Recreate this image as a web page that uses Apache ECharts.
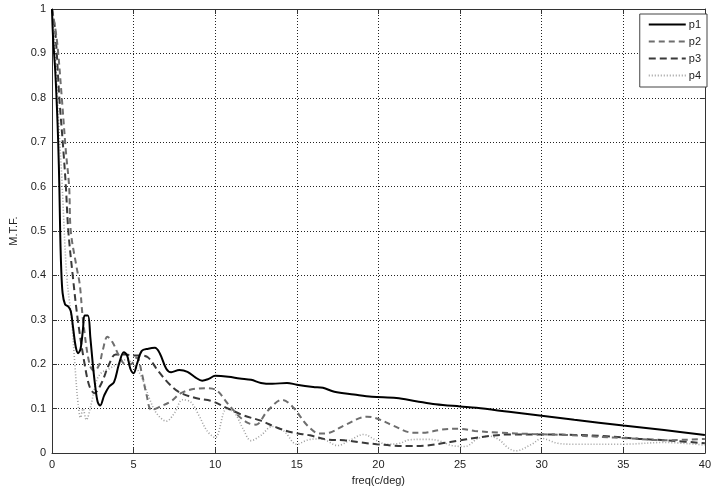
<!DOCTYPE html>
<html>
<head>
<meta charset="utf-8">
<script src="https://cdn.jsdelivr.net/npm/echarts@6/dist/echarts.min.js"></script>
<style>html,body{margin:0;padding:0;background:#fff}#c{width:714px;height:491px}</style>
</head>
<body>
<div id="c"></div>
<script>
const seriesNames = ['p1', 'p2', 'p3', 'p4'];
const xTicks = [0, 5, 10, 15, 20, 25, 30, 35, 40];
const yTicks = [0, 0.1, 0.2, 0.3, 0.4, 0.5, 0.6, 0.7, 0.8, 0.9, 1];

const p1 = [[0,1],[0.06,0.94],[0.2,0.86],[0.3,0.78],[0.38,0.7],[0.45,0.6],[0.5,0.5],[0.56,0.42],[0.65,0.36],[0.8,0.335],[1.0,0.33],[1.15,0.32],[1.3,0.28],[1.45,0.24],[1.6,0.225],[1.75,0.235],[1.9,0.28],[2.0,0.31],[2.2,0.31],[2.35,0.26],[2.5,0.2],[2.65,0.15],[2.8,0.115],[2.95,0.107],[3.2,0.13],[3.5,0.15],[3.8,0.16],[4.1,0.2],[4.4,0.227],[4.6,0.22],[4.8,0.19],[5.0,0.18],[5.2,0.2],[5.5,0.23],[5.9,0.235],[6.3,0.237],[6.6,0.225],[7.0,0.19],[7.3,0.182],[7.8,0.187],[8.3,0.183],[8.8,0.17],[9.2,0.163],[9.6,0.167],[10,0.174],[10.8,0.172],[11.5,0.168],[12.2,0.165],[12.8,0.158],[13.5,0.156],[14.4,0.158],[15,0.154],[16,0.149],[16.6,0.147],[17.3,0.138],[18.5,0.132],[19.6,0.127],[21.1,0.124],[22.3,0.117],[23.5,0.11],[25,0.105],[26,0.102],[28,0.093],[30,0.084],[32,0.075],[35,0.062],[37.5,0.052],[40,0.041]];

const p2 = [[0,1],[0.3,0.93],[0.6,0.8],[0.85,0.68],[1.05,0.6],[1.15,0.5],[1.5,0.42],[1.7,0.38],[1.9,0.3],[2.3,0.2],[2.6,0.185],[2.9,0.2],[3.1,0.23],[3.4,0.262],[3.7,0.25],[4.1,0.22],[4.5,0.2],[4.8,0.2],[5.2,0.215],[5.5,0.18],[5.8,0.13],[6.1,0.097],[6.7,0.106],[7.3,0.117],[7.9,0.135],[8.8,0.145],[9.4,0.146],[10,0.143],[10.8,0.11],[11.4,0.085],[12,0.068],[12.5,0.064],[13.2,0.095],[14.1,0.12],[14.8,0.102],[15.6,0.064],[16.4,0.044],[17,0.046],[18,0.064],[19.3,0.082],[19.9,0.078],[20.9,0.062],[22.1,0.046],[22.7,0.046],[23.9,0.053],[24.9,0.055],[25.9,0.05],[27.4,0.046],[29.4,0.043],[31.4,0.041],[33.4,0.037],[35.5,0.033],[37.5,0.029],[40,0.032]];

const p3 = [[0,1],[0.2,0.95],[0.45,0.8],[0.7,0.68],[0.85,0.6],[1.0,0.5],[1.27,0.4],[1.58,0.3],[2.0,0.2],[2.3,0.15],[2.6,0.135],[3.0,0.155],[3.5,0.2],[3.9,0.222],[4.5,0.222],[5.0,0.22],[5.5,0.22],[5.9,0.215],[6.5,0.185],[7.2,0.155],[7.8,0.137],[8.8,0.124],[9.8,0.117],[10.8,0.1],[11.8,0.084],[12.8,0.073],[13.8,0.057],[14.8,0.046],[15.8,0.04],[16.8,0.031],[17.9,0.029],[18.9,0.024],[19.9,0.02],[20.9,0.017],[21.9,0.016],[22.9,0.017],[23.9,0.022],[24.9,0.028],[25.9,0.034],[26.9,0.039],[28,0.042],[30,0.042],[32,0.041],[34,0.038],[36,0.032],[38,0.028],[40,0.022]];

const p4 = [[0,1],[0.2,0.9],[0.4,0.75],[0.6,0.62],[0.9,0.4],[1.2,0.3],[1.4,0.2],[1.6,0.11],[1.75,0.08],[1.9,0.1],[2.1,0.075],[2.4,0.11],[2.7,0.16],[3.0,0.18],[3.5,0.19],[4.0,0.2],[4.5,0.21],[5.0,0.2],[5.5,0.17],[6.0,0.12],[6.4,0.09],[7.0,0.072],[7.5,0.09],[8.0,0.12],[8.5,0.115],[9.0,0.085],[9.5,0.05],[10,0.035],[10.7,0.1],[11.2,0.09],[11.7,0.055],[12.2,0.028],[12.8,0.04],[13.5,0.06],[14.2,0.05],[15,0.02],[15.7,0.03],[16.5,0.032],[17.5,0.017],[18.3,0.03],[19.1,0.042],[19.8,0.03],[20.5,0.02],[21.3,0.022],[21.9,0.03],[22.9,0.031],[23.7,0.028],[24.5,0.017],[25.3,0.015],[26.1,0.033],[26.8,0.038],[27.4,0.03],[27.9,0.013],[28.4,0.005],[29.4,0.02],[30,0.033],[31,0.022],[32,0.02],[35,0.02],[37.5,0.024],[40,0.018]];

const styles = [
  {color:'#000000', width:2, type:'solid'},
  {color:'#6e6e6e', width:2, type:[6,4]},
  {color:'#3a3a3a', width:2, type:[7,4]},
  {color:'#a0a0a0', width:1.6, type:[1,2]}
];
const dataSets = [p1, p2, p3, p4];

const chart = echarts.init(document.getElementById('c'), null, {renderer:'canvas'});
const font = 'Liberation Sans, Arial, sans-serif';
chart.setOption({
  backgroundColor:'#ffffff',
  animation:false,
  grid:{left:52, right:2, top:9, bottom:35, show:false},
  legend:{
    data: seriesNames,
    orient:'vertical',
    right:7, top:14,
    itemWidth:37, itemHeight:10, itemGap:6,
    backgroundColor:'#ffffff',
    borderColor:'#444', borderWidth:1,
    padding:[5,6,6,8],
    itemStyle:{opacity:0},
    textStyle:{fontFamily:font, fontSize:11, color:'#222', padding:[0,0,0,-2]}
  },
  xAxis:[{
    type:'value', min:0, max:40, interval:5,
    name:'freq(c/deg)', nameLocation:'middle', nameGap:21,
    nameTextStyle:{fontFamily:font, fontSize:11, color:'#222'},
    axisLine:{show:true, onZero:false, lineStyle:{color:'#333', width:1}},
    axisTick:{show:true, inside:true, length:5, lineStyle:{color:'#333'}},
    axisLabel:{fontFamily:font, fontSize:11, color:'#222', margin:6,
      formatter: v => xTicks.includes(v) ? String(v) : ''},
    splitLine:{show:true, lineStyle:{color:'#222', width:1, type:[1,2]}}
  },{
    type:'value', min:0, max:40, interval:5, position:'top',
    axisLine:{show:true, onZero:false, lineStyle:{color:'#333', width:1}},
    axisTick:{show:true, inside:true, length:5, lineStyle:{color:'#333'}},
    axisLabel:{show:false}, splitLine:{show:false}
  }],
  yAxis:[{
    type:'value', min:0, max:1, interval:0.1,
    name:'M.T.F.', nameLocation:'middle', nameGap:33, nameRotate:90,
    nameTextStyle:{fontFamily:font, fontSize:11, color:'#222'},
    axisLine:{show:true, onZero:false, lineStyle:{color:'#333', width:1}},
    axisTick:{show:true, inside:true, length:5, lineStyle:{color:'#333'}},
    axisLabel:{fontFamily:font, fontSize:11, color:'#222', margin:6,
      formatter: v => { const r = Math.round(v*10)/10; return yTicks.includes(r) ? String(r) : ''; }},
    splitLine:{show:true, lineStyle:{color:'#222', width:1, type:[1,2]}}
  },{
    type:'value', min:0, max:1, interval:0.1, position:'right',
    axisLine:{show:true, onZero:false, lineStyle:{color:'#333', width:1}},
    axisTick:{show:true, inside:true, length:5, lineStyle:{color:'#333'}},
    axisLabel:{show:false}, splitLine:{show:false}
  }],
  series: seriesNames.map((n,i)=>({
    name:n, type:'line', data:dataSets[i], xAxisIndex:0, yAxisIndex:0,
    showSymbol:false, symbol:'none', smooth:0.35, clip:true,
    lineStyle:{color:styles[i].color, width:styles[i].width, type:styles[i].type},
    itemStyle:{color:styles[i].color},
    z: 10 - i
  }))
});
</script>
</body>
</html>
